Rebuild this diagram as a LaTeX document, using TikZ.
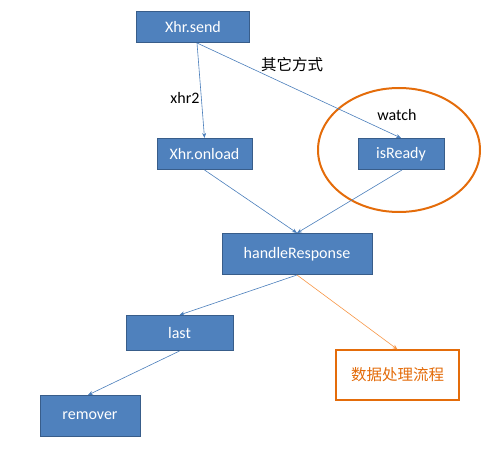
\documentclass[tikz,border=0pt]{standalone}
\usepackage{tikz}
\usepackage{xcolor}
\usepackage{fontspec}
\setmainfont{Carlito}
\newfontfamily\cjkfont{Noto Sans CJK SC}
\usetikzlibrary{arrows.meta,calc}
\definecolor{boxblue}{RGB}{79,129,189}
\definecolor{boxedge}{RGB}{56,93,138}
\definecolor{linkblue}{RGB}{74,126,187}
\definecolor{watchorange}{RGB}{228,108,10}
\definecolor{flowline}{RGB}{247,150,70}

\tikzset{
  stepbox/.style={draw=boxedge, fill=boxblue, line width=1pt, text=white,
    font=\fontsize{16}{19}\selectfont, inner sep=0pt},
  flowbox/.style={draw=watchorange, fill=white, line width=1.2pt, text=watchorange,
    font=\cjkfont\fontsize{15.5}{18}\selectfont, inner sep=0pt},
  link/.style={linkblue, line width=0.6pt, -{Stealth[length=5pt,width=4pt]}},
  tag/.style={text=black, font=\fontsize{16}{19}\selectfont}
}

\begin{document}
\begin{tikzpicture}[x=1pt,y=1pt]
\useasboundingbox (0,0) rectangle (501,450);

% 1. BOXES
\node[stepbox, minimum width=113, minimum height=31] (send) at (193,423) {Xhr.send};
\node[stepbox, minimum width=95, minimum height=31] (onload) at (204.5,296) {Xhr.onload};
\node[stepbox, minimum width=86, minimum height=31] (ready) at (401,296) {isReady};
\node[stepbox, minimum width=150, minimum height=41] (handle) at (297,196) {handleResponse};
\node[stepbox, minimum width=107, minimum height=35] (last) at (179.5,117) {last};
\node[stepbox, minimum width=100, minimum height=41] (remover) at (90,34) {remover};
\node[flowbox, minimum width=123, minimum height=50] (flow) at (397.5,75) {数据处理流程};

% Watch ring round isReady
\draw[watchorange, line width=2pt] (399,300) ellipse (81 and 62);

% 2. LABELS
\node[tag] (xhrtwo) at (185,352) {xhr2};
\node[tag, font=\cjkfont\fontsize{15.5}{18}\selectfont] (other) at (292,385) {其它方式};
\node[tag] (watch) at (397,335) {watch};

% 3. LINKS
\coordinate (sendout) at ($(send.south)+(4,0)$);
\draw[link] (sendout) -- (onload.north);
\draw[link] (sendout) -- (ready.north);
\draw[link] (onload.south) -- (handle.north);
\draw[link] ($(ready.south)+(1,0)$) -- (handle.north);
\draw[link] (handle.south) -- (last.north);
\draw[flowline, line width=0.6pt, -{Stealth[length=5pt,width=4pt]}] (handle.south) -- (flow.north);
\draw[link] (last.south) -- ($(remover.north)+(-2,0)$);

\end{tikzpicture}
\end{document}
